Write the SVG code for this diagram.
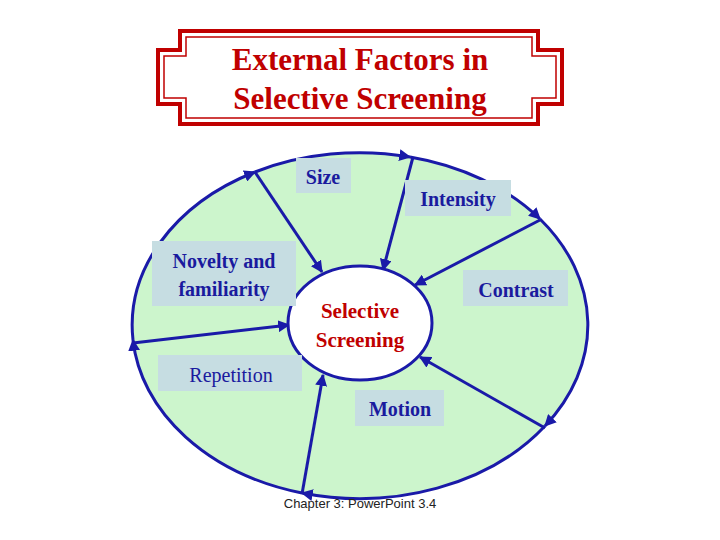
<svg xmlns="http://www.w3.org/2000/svg" width="720" height="540" viewBox="0 0 720 540">
<defs>
<marker id="ah" viewBox="0 0 10 10" refX="9" refY="5" markerWidth="4" markerHeight="4" orient="auto" markerUnits="strokeWidth"><path d="M0,0 L10,5 L0,10 z" fill="#1a1aa8"/></marker>
<style>
.lb{fill:#c6dde2}
.t{font-family:"Liberation Serif",serif;font-size:20px;fill:#1a1a9e;text-anchor:middle;font-weight:bold}
.n{font-weight:normal}
.ln{stroke:#1a1aa8;stroke-width:3;fill:none;marker-end:url(#ah)}
</style>
</defs>
<rect width="720" height="540" fill="#fff"/>
<g id="title">
<path d="M180,31 H538 V50 H562 V104 H538 V124 H180 V104 H158 V50 H180 Z" fill="#fff" stroke="#c00000" stroke-width="4"/>
<path d="M186,37 H532 V56 H556 V98 H532 V118 H186 V98 H164 V56 H186 Z" fill="none" stroke="#c00000" stroke-width="1.5"/>
<text x="360" y="70" text-anchor="middle" font-family="Liberation Serif,serif" font-weight="bold" font-size="31" fill="#c00000">External Factors in</text>
<text x="360" y="109" text-anchor="middle" font-family="Liberation Serif,serif" font-weight="bold" font-size="31" fill="#c00000">Selective Screening</text>
</g>
<g id="outer"><ellipse cx="360" cy="325" rx="228" ry="173" fill="#ccf5cc"/></g>
<g id="connectors">
<path class="ln" d="M133,340 A228 173 0 0 1 255,172"/>
<path class="ln" d="M255,172 A228 173 0 0 1 410,157"/>
<path class="ln" d="M410,157 A228 173 0 0 1 540,219"/>
<path class="ln" d="M540,219 A228 173 0 0 1 545,426"/>
<path class="ln" d="M545,426 A228 173 0 0 1 302,493"/>
<path class="ln" d="M302,493 A228 173 0 0 1 133,340"/>
<path class="ln" d="M255,172 L322,272"/>
<path class="ln" d="M413,157 L383,270"/>
<path class="ln" d="M540,220 L415,285"/>
<path class="ln" d="M545,428 L420,357"/>
<path class="ln" d="M302,494 L323,375"/>
<path class="ln" d="M133,343 L289,325"/>
</g>
<g id="center">
<ellipse cx="360" cy="323" rx="72" ry="57" fill="#fff" stroke="#1a1aa8" stroke-width="3"/>
<text x="360" y="318" text-anchor="middle" font-family="Liberation Serif,serif" font-weight="bold" font-size="21" fill="#c00000">Selective</text>
<text x="360" y="347" text-anchor="middle" font-family="Liberation Serif,serif" font-weight="bold" font-size="21" fill="#c00000">Screening</text>
</g>
<g id="size"><rect class="lb" x="296" y="158" width="55" height="35"/><text class="t" x="323" y="184">Size</text></g>
<g id="intensity"><rect class="lb" x="405" y="180" width="106" height="36"/><text class="t" x="458" y="206">Intensity</text></g>
<g id="novelty"><rect class="lb" x="152" y="241" width="144" height="65"/><text class="t" x="224" y="268">Novelty and</text><text class="t" x="224" y="296">familiarity</text></g>
<g id="contrast"><rect class="lb" x="463" y="270" width="105" height="36"/><text class="t" x="516" y="297">Contrast</text></g>
<g id="repetition"><rect class="lb" x="158" y="355" width="144" height="36"/><text class="t n" x="231" y="382">Repetition</text></g>
<g id="motion"><rect class="lb" x="355" y="390" width="89" height="36"/><text class="t" x="400" y="416">Motion</text></g>
<text x="360" y="508" text-anchor="middle" font-family="Liberation Sans,sans-serif" font-size="13" fill="#222">Chapter 3: PowerPoint 3.4</text>
</svg>
